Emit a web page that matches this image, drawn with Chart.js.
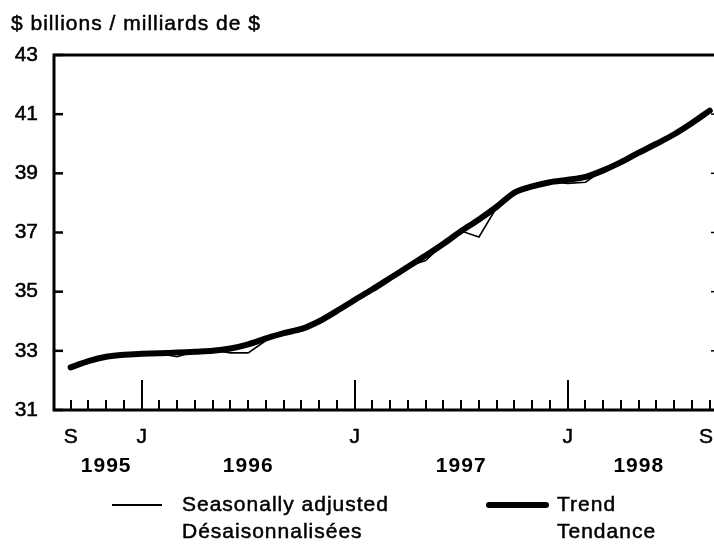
<!DOCTYPE html>
<html>
<head>
<meta charset="utf-8">
<script src="https://cdn.jsdelivr.net/npm/chart.js@4.4.1/dist/chart.umd.min.js"></script>
<style>
  html, body { margin: 0; padding: 0; background: #fff; }
</style>
</head>
<body>
<canvas id="dataChart" width="714" height="544"></canvas>
<script>
// monthly, Sep 1995 .. Sep 1998 (index 0..36)
const trend = [32.44, 32.65, 32.80, 32.87, 32.90, 32.92, 32.94, 32.97, 33.00, 33.08,
    33.22, 33.42, 33.60, 33.74, 34.00, 34.35, 34.72, 35.08, 35.46, 35.84,
    36.22, 36.62, 37.05, 37.44, 37.87, 38.35, 38.56, 38.70, 38.78, 38.88,
    39.10, 39.38, 39.70, 40.00, 40.32, 40.70, 41.12];
const seasAdj = [32.44, 32.66, 32.80, 32.86, 32.88, 32.90, 32.80, 32.99, 33.03, 32.93,
    32.93, 33.35, 33.62, 33.66, 33.98, 34.30, 34.74, 35.10, 35.46, 35.86,
    36.05, 36.62, 37.05, 36.85, 37.85, 38.38, 38.54, 38.72, 38.66, 38.70,
    39.12, 39.38, 39.70, 40.00, 40.30, 40.72, 41.12];

const monthTickPos = [0, 4, 16, 28, 36];
const monthTickText = ['S', 'J', 'J', 'J', 'S'];
const januaryIdx = [4, 16, 28];
const yearLabels = ['1995', '1996', '1997', '1998'];
const yearCenters = [2, 10, 22, 32];
const yTicks = [31, 33, 35, 37, 39, 41, 43];

const FONT = '"Liberation Sans", Arial, sans-serif';

function toPoints(arr) { return arr.map((v, i) => ({ x: i, y: v })); }

function heavyText(ctx, t, x, y) {
    ctx.fillText(t, x, y);
    ctx.strokeText(t, x, y);
}

// frame, inward ticks, axis labels, years, title and legend
const decorPlugin = {
    id: 'decor',
    afterDraw(c) {
        const ctx = c.ctx;
        const a = c.chartArea;
        const xs = c.scales.x, ys = c.scales.y;
        ctx.save();
        ctx.strokeStyle = '#000';
        ctx.lineCap = 'butt';

        // frame (top, left, bottom)
        ctx.lineWidth = 3;
        ctx.beginPath();
        ctx.moveTo(a.right, a.top); ctx.lineTo(a.left, a.top);
        ctx.lineTo(a.left, a.bottom); ctx.lineTo(a.right, a.bottom);
        ctx.stroke();

        // y ticks
        yTicks.forEach(v => {
            const y = ys.getPixelForValue(v);
            ctx.lineWidth = 2.5;
            ctx.beginPath(); ctx.moveTo(a.left, y); ctx.lineTo(a.left + 9, y); ctx.stroke();
            if (v > 31 && v < 43) {
                ctx.lineWidth = 1.5;
                ctx.beginPath(); ctx.moveTo(a.right - 3, y); ctx.lineTo(a.right, y); ctx.stroke();
            }
        });

        // month ticks
        ctx.lineWidth = 2;
        for (let i = 0; i < trend.length; i++) {
            const x = Math.round(xs.getPixelForValue(i));
            const len = januaryIdx.includes(i) ? 30 : 10;
            ctx.beginPath(); ctx.moveTo(x, a.bottom); ctx.lineTo(x, a.bottom - len); ctx.stroke();
        }

        ctx.fillStyle = '#000';
        ctx.textBaseline = 'middle';
        ctx.font = '21px ' + FONT;
        ctx.lineWidth = 0.5;

        // y labels
        ctx.textAlign = 'right';
        ys.ticks.forEach(t => heavyText(ctx, String(t.value), 38, ys.getPixelForValue(t.value)));

        // month labels (last one kept inside the canvas)
        ctx.textAlign = 'center';
        monthTickPos.forEach((p, k) => {
            const w = ctx.measureText(monthTickText[k]).width;
            const x = Math.min(xs.getPixelForValue(p), c.width - w / 2 - 1);
            heavyText(ctx, monthTickText[k], x, 437);
        });

        // years
        ctx.font = 'bold 21px ' + FONT;
        ctx.letterSpacing = '1px';
        yearLabels.forEach((t, k) => ctx.fillText(t, xs.getPixelForValue(yearCenters[k]), 466));

        // title
        ctx.font = '21px ' + FONT;
        ctx.textAlign = 'left';
        ctx.textBaseline = 'alphabetic';
        heavyText(ctx, '$ billions / milliards de $', 11, 30);

        // legend
        ctx.textBaseline = 'middle';
        heavyText(ctx, 'Seasonally adjusted', 182, 505);
        heavyText(ctx, 'Désaisonnalisées', 182, 532);
        heavyText(ctx, 'Trend', 557, 505);
        heavyText(ctx, 'Tendance', 557, 532);

        ctx.lineWidth = 2;
        ctx.beginPath(); ctx.moveTo(112, 505); ctx.lineTo(162, 505); ctx.stroke();
        ctx.lineWidth = 6;
        ctx.lineCap = 'round';
        ctx.beginPath(); ctx.moveTo(489, 505); ctx.lineTo(546, 505); ctx.stroke();
        ctx.restore();
    }
};

function initChart() {
    const ctx = document.getElementById('dataChart').getContext('2d');
    new Chart(ctx, {
        type: 'line',
        data: {
            datasets: [
                { label: 'Trend', data: toPoints(trend), borderColor: '#000', borderWidth: 6,
                  pointRadius: 0, tension: 0.3, borderCapStyle: 'round', borderJoinStyle: 'round', fill: false },
                { label: 'Seasonally adjusted', data: toPoints(seasAdj), borderColor: '#000', borderWidth: 1.6,
                  pointRadius: 0, tension: 0, fill: false }
            ]
        },
        options: {
            responsive: false,
            animation: false,
            devicePixelRatio: 1,
            layout: { padding: { top: 55, right: 0, left: 0, bottom: 0 } },
            plugins: { legend: { display: false }, tooltip: { enabled: false } },
            scales: {
                x: {
                    type: 'linear',
                    min: -0.94,
                    max: 36.24,
                    grid: { display: false, drawTicks: false },
                    border: { display: false },
                    afterBuildTicks: s => { s.ticks = monthTickPos.map(v => ({ value: v })); },
                    afterFit: s => { s.height = 134; s.paddingLeft = 0; s.paddingRight = 0; },
                    ticks: { display: false }
                },
                y: {
                    min: 31,
                    max: 43,
                    grid: { display: false, drawTicks: false },
                    border: { display: false },
                    afterBuildTicks: s => { s.ticks = yTicks.map(v => ({ value: v })); },
                    afterFit: s => { s.width = 54; s.paddingTop = 0; s.paddingBottom = 0; },
                    ticks: { display: false }
                }
            }
        },
        plugins: [decorPlugin]
    });
}

initChart();
</script>
</body>
</html>
